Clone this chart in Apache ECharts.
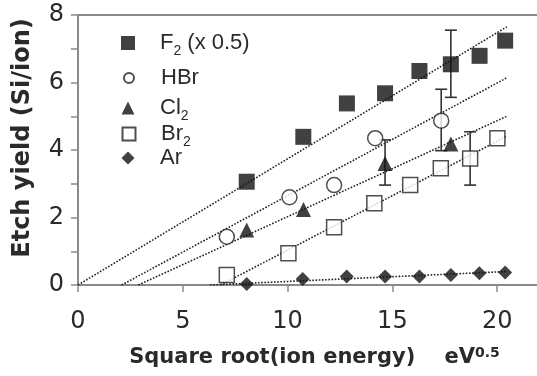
<!DOCTYPE html>
<html><head><meta charset="utf-8">
<script src="https://cdn.jsdelivr.net/npm/echarts@6/dist/echarts.min.js"></script>
<style>html,body{margin:0;padding:0;background:#fff}#c{width:537px;height:376px}</style>
</head><body><div id="c"></div>
<script>
// Data
const f2 = [[8.05,3.06],[10.75,4.39],[12.83,5.38],[14.65,5.68],[16.29,6.34],[17.79,6.54],[19.16,6.79],[20.38,7.24]];
const hbr = [[7.1,1.43],[10.09,2.6],[12.22,2.96],[14.18,4.35],[17.33,4.87]];
const cl2 = [[8.05,1.63],[10.76,2.24],[14.65,3.6],[17.79,4.18]];
const br2 = [[7.1,0.3],[10.04,0.94],[12.22,1.71],[14.14,2.42],[15.85,2.96],[17.31,3.46],[18.71,3.75],[20.01,4.35]];
const ar = [[8.05,0.03],[10.72,0.18],[12.82,0.25],[14.65,0.25],[16.29,0.25],[17.79,0.3],[19.15,0.35],[20.38,0.37]];
// error bars: [x, low, high]
const errBars = [[17.79,5.56,7.55],[17.33,3.98,5.8],[14.65,2.96,4.3],[18.71,2.96,4.54]];
// dotted fit lines (endpoints)
const fitF2 = [[0,0],[20.46,7.65]];
const fitHBr = [[2.08,0],[20.46,6.14]];
const fitCl2 = [[2.88,0],[20.46,5.0]];
const fitBr2 = [[6.8,0],[20.46,4.41]];
const fitAr = [[6.3,0],[20.46,0.4]];
const xTicks = [0,5,10,15,20];
const yTicks = [0,2,4,6,8];
const legendNames = ['F2','HBr','Cl2','Br2','Ar'];

const chart = echarts.init(document.getElementById('c'), null, {renderer:'canvas'});
const TICKFONT = 'DejaVu Sans';
const LEGFONT = 'Liberation Sans';
const black = '#111';
const txt = '#2a2a2a';
const axisGray = '#8a8a8a';
function fitSeries(d){
  return {type:'line', data:d, symbol:'none', silent:true, z:1,
    lineStyle:{color:'#222', width:1.6, type:'dotted'}};
}
const legendRich = {
  n:{fontFamily:LEGFONT, fontSize:22, color:txt, lineHeight:30},
  s:{fontFamily:LEGFONT, fontSize:14, color:txt, lineHeight:15, verticalAlign:'bottom'}
};
function legendFmt(n){
  if(n==='F2') return '{n|F}{s|2}{n| (x 0.5)}';
  if(n==='Cl2') return '{n|Cl}{s|2}';
  if(n==='Br2') return '{n|Br}{s|2}';
  return '{n|'+n+'}';
}
const legendRows = [
  {name:'F2', cy:47, w:14},
  {name:'HBr', cy:82, w:10},
  {name:'Cl2', cy:112, w:13},
  {name:'Br2', cy:138, w:13},
  {name:'Ar', cy:162, w:13}
];
const legends = legendRows.map(r=>({
  orient:'vertical', left:128 - r.w/2, top:r.cy-15, padding:0,
  itemWidth:r.w, itemHeight:r.w, data:[r.name], formatter:legendFmt, selectedMode:false,
  textStyle:{padding:[0,0,0,27 - r.w/2], rich:legendRich}
}));
const option = {
  animation:false,
  grid:{left:78, right:0, top:15, bottom:91, containLabel:false},
  xAxis:[{
    type:'value', min:0, max:21.9, interval:5,
    axisLine:{show:true, onZero:false, lineStyle:{color:axisGray, width:2}},
    axisTick:{show:true, length:7, lineStyle:{color:axisGray, width:1.5}},
    splitLine:{show:false},
    axisLabel:{show:true, fontFamily:TICKFONT, fontSize:24, color:txt, margin:25,
      showMaxLabel:false,
      formatter:v=> xTicks.includes(v)? String(v):''},
    name:'{t|Square root(ion energy)    eV}{s|0.5}',
    nameLocation:'middle', nameGap:61,
    nameTextStyle:{padding:[0,0,0,14], rich:{
      t:{fontFamily:'DejaVu Sans', fontWeight:'bold', fontSize:21, color:txt},
      s:{fontFamily:'DejaVu Sans', fontWeight:'bold', fontSize:14, color:txt, padding:[0,0,10,0]}
    }}
  },{
    type:'value', position:'top', min:0, max:21.9,
    axisLine:{show:true, onZero:false, lineStyle:{color:axisGray, width:2}},
    axisTick:{show:false}, axisLabel:{show:false}, splitLine:{show:false}
  }],
  yAxis:{
    type:'value', min:0, max:8, interval:2,
    axisLine:{show:true, onZero:false, lineStyle:{color:axisGray, width:2}},
    axisTick:{show:true, length:7, lineStyle:{color:axisGray, width:1.5}},
    minorTick:{show:true, splitNumber:2, length:7, lineStyle:{color:axisGray, width:1.5}},
    splitLine:{show:false},
    axisLabel:{fontFamily:TICKFONT, fontSize:24, color:txt, margin:14,
      formatter:v=> yTicks.includes(v)? String(v):''},
    name:'Etch yield (Si/ion)', nameLocation:'middle', nameGap:43,
    nameTextStyle:{fontFamily:'DejaVu Sans', fontWeight:'bold', fontSize:24, color:txt, padding:[0,0,0,24]}
  },
  legend:legends,
  series:[
    fitSeries(fitF2), fitSeries(fitHBr), fitSeries(fitCl2), fitSeries(fitBr2), fitSeries(fitAr),
    {type:'custom', z:3, data:errBars, renderItem:function(params, api){
      const x = api.value(0), lo = api.value(1), hi = api.value(2);
      const p1 = api.coord([x, lo]), p2 = api.coord([x, hi]);
      const st = {stroke:'#333', lineWidth:1.6};
      return {type:'group', children:[
        {type:'line', shape:{x1:p1[0], y1:p1[1], x2:p2[0], y2:p2[1]}, style:st},
        {type:'line', shape:{x1:p1[0]-6, y1:p1[1], x2:p1[0]+6, y2:p1[1]}, style:st},
        {type:'line', shape:{x1:p2[0]-6, y1:p2[1], x2:p2[0]+6, y2:p2[1]}, style:st}
      ]};
    }},
    {name:'F2', type:'scatter', data:f2, symbol:'rect', symbolSize:16, z:5,
      itemStyle:{color:black}},
    {name:'HBr', type:'scatter', data:hbr, symbol:'circle', symbolSize:15, z:5,
      itemStyle:{color:'#fff', borderColor:'#222', borderWidth:1.5}},
    {name:'Cl2', type:'scatter', data:cl2, symbol:'triangle', symbolSize:15, z:5,
      itemStyle:{color:black}},
    {name:'Br2', type:'scatter', data:br2, symbol:'rect', symbolSize:15, z:5,
      itemStyle:{color:'#fff', borderColor:'#222', borderWidth:1.5}},
    {name:'Ar', type:'scatter', data:ar, symbol:'diamond', symbolSize:[14,14], z:5,
      itemStyle:{color:black}}
  ]
};
chart.setOption(option);
</script></body></html>
